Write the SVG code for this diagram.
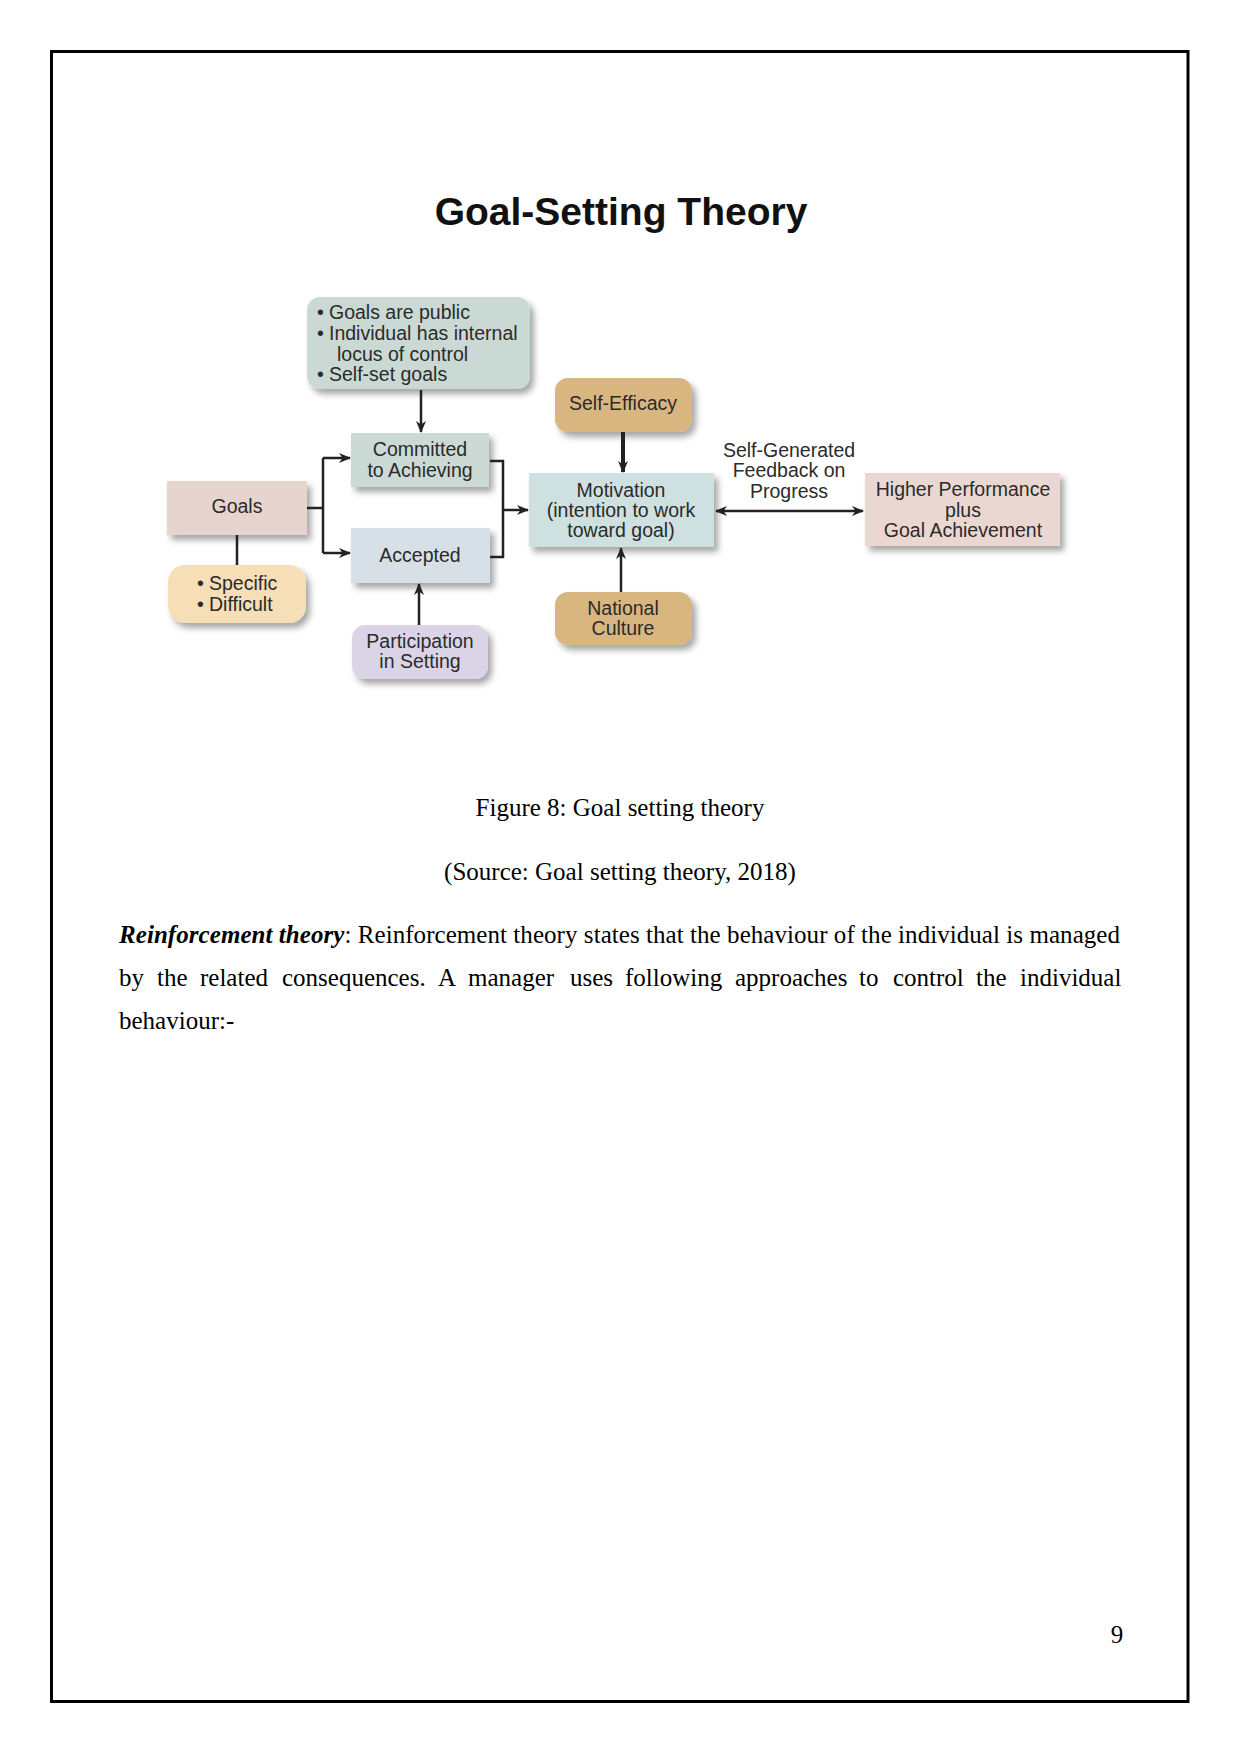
<svg xmlns="http://www.w3.org/2000/svg" width="1241" height="1754" viewBox="0 0 1241 1754">
<defs>
<filter id="sh" x="-10%" y="-10%" width="130%" height="140%">
<feDropShadow dx="4" dy="5" stdDeviation="3" flood-color="#000" flood-opacity="0.35"/>
</filter>
<marker id="ah" markerWidth="12" markerHeight="10" refX="11" refY="5" orient="auto-start-reverse" markerUnits="userSpaceOnUse">
<path d="M0,0 L12,5 L0,10 L3.5,5 z" fill="#222"/>
</marker>
</defs>
<style>
.d{font-family:"Liberation Sans",Arial,sans-serif;font-size:19.5px;fill:#2b2b2b}
.c{text-anchor:middle}
.ln{fill:none;stroke:#222;stroke-width:2.5}
.b{filter:url(#sh)}
.pg{font-family:"Liberation Serif","Times New Roman",serif;font-size:25px;fill:#000}
</style>
<rect x="0" y="0" width="1241" height="1754" fill="#fff"/>
<rect x="51.5" y="51.5" width="1136.5" height="1650" fill="none" stroke="#000" stroke-width="3"/>

<text x="621" y="225" text-anchor="middle" font-family="Liberation Sans,Arial,sans-serif" font-weight="bold" font-size="39" fill="#111">Goal-Setting Theory</text>

<g id="node-conditions">
<rect class="b" x="307" y="297" width="223" height="92" rx="13" fill="#cad9d3"/>
<text class="d" x="317" y="319">•</text><text class="d" x="329" y="319">Goals are public</text>
<text class="d" x="317" y="340">•</text><text class="d" x="329" y="340">Individual has internal</text>
<text class="d" x="337" y="361">locus of control</text>
<text class="d" x="317" y="381">•</text><text class="d" x="329" y="381">Self-set goals</text>
</g>
<g id="node-committed">
<rect class="b" x="351" y="433" width="138" height="54" fill="#cbdad4"/>
<text class="d c" x="420" y="456">Committed</text>
<text class="d c" x="420" y="477">to Achieving</text>
</g>
<g id="node-goals">
<rect class="b" x="167" y="481" width="140" height="54" fill="#e8d4ce"/>
<text class="d c" x="237" y="513">Goals</text>
</g>
<g id="node-accepted">
<rect class="b" x="351" y="528" width="139" height="55" fill="#d7e0e6"/>
<text class="d c" x="420" y="562">Accepted</text>
</g>
<g id="node-specific">
<rect class="b" x="168" y="565" width="138" height="58" rx="17" fill="#f6deb7"/>
<text class="d" x="197" y="590">•</text><text class="d" x="209" y="590">Specific</text>
<text class="d" x="197" y="611">•</text><text class="d" x="209" y="611">Difficult</text>
</g>
<g id="node-participation">
<rect class="b" x="352" y="625" width="136" height="54" rx="13" fill="#dbd4e7"/>
<text class="d c" x="420" y="648">Participation</text>
<text class="d c" x="420" y="668">in Setting</text>
</g>
<g id="node-selfefficacy">
<rect class="b" x="555" y="378" width="137" height="54" rx="13" fill="#d9b67f"/>
<text class="d c" x="623" y="410">Self-Efficacy</text>
</g>
<g id="node-motivation">
<rect class="b" x="529" y="473" width="185" height="74" fill="#cee0df"/>
<text class="d c" x="621" y="497">Motivation</text>
<text class="d c" x="621" y="517">(intention to work</text>
<text class="d c" x="621" y="537">toward goal)</text>
</g>
<g id="node-culture">
<rect class="b" x="555" y="592" width="137" height="53" rx="13" fill="#d9b67f"/>
<text class="d c" x="623" y="615">National</text>
<text class="d c" x="623" y="635">Culture</text>
</g>
<g id="node-performance">
<rect class="b" x="865" y="473" width="195" height="73" fill="#ead7d2"/>
<text class="d c" x="963" y="496">Higher Performance</text>
<text class="d c" x="963" y="517">plus</text>
<text class="d c" x="963" y="537">Goal Achievement</text>
</g>

<g id="connectors">
<line class="ln" x1="421" y1="390" x2="421" y2="432" marker-end="url(#ah)"/>
<path class="ln" d="M307,508 H323"/>
<path class="ln" d="M323,458 V553"/>
<line class="ln" x1="323" y1="458" x2="350" y2="458" marker-end="url(#ah)"/>
<line class="ln" x1="323" y1="553" x2="350" y2="553" marker-end="url(#ah)"/>
<path class="ln" d="M490,461 H503 V557 H490"/>
<line class="ln" x1="503" y1="510" x2="528" y2="510" marker-end="url(#ah)"/>
<line class="ln" x1="237" y1="535" x2="237" y2="565"/>
<line class="ln" x1="419" y1="625" x2="419" y2="584" marker-end="url(#ah)"/>
<line x1="623" y1="432" x2="623" y2="472" stroke="#222" stroke-width="4" marker-end="url(#ah)"/>
<line class="ln" x1="621" y1="592" x2="621" y2="548" marker-end="url(#ah)"/>
<line class="ln" x1="716" y1="511" x2="863" y2="511" marker-start="url(#ah)" marker-end="url(#ah)"/>
<text class="d c" x="789" y="457">Self-Generated</text>
<text class="d c" x="789" y="477">Feedback on</text>
<text class="d c" x="789" y="498">Progress</text>
</g>

<text class="pg" x="620" y="816" text-anchor="middle">Figure 8: Goal setting theory</text>
<text class="pg" x="620" y="880" text-anchor="middle">(Source: Goal setting theory, 2018)</text>

<text class="pg" x="119" y="943" textLength="1001" lengthAdjust="spacing"><tspan font-weight="bold" font-style="italic">Reinforcement theory</tspan>: Reinforcement theory states that the behaviour of the individual is managed</text>
<text class="pg" y="986"><tspan x="119">by</tspan><tspan x="157">the</tspan><tspan x="200">related</tspan><tspan x="282">consequences.</tspan><tspan x="438">A</tspan><tspan x="468">manager</tspan><tspan x="570">uses</tspan><tspan x="625">following</tspan><tspan x="735">approaches</tspan><tspan x="859">to</tspan><tspan x="893">control</tspan><tspan x="976">the</tspan><tspan x="1020">individual</tspan></text>
<text class="pg" x="119" y="1029">behaviour:-</text>

<text class="pg" x="1117" y="1643" text-anchor="middle">9</text>
</svg>
